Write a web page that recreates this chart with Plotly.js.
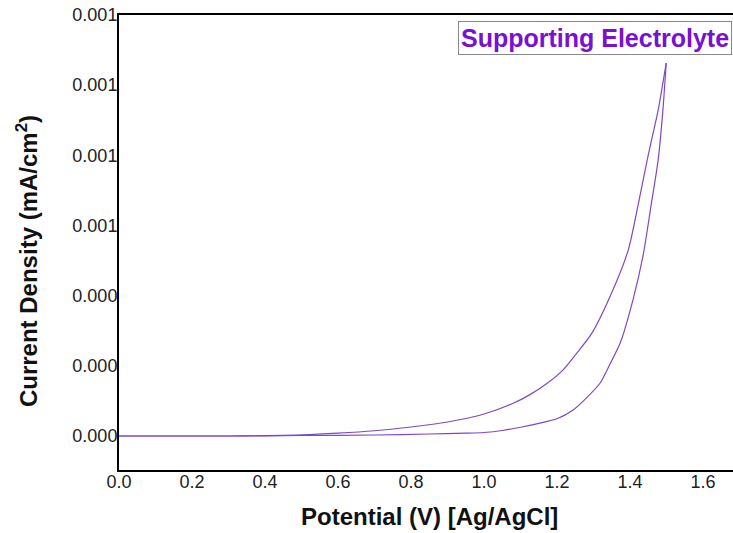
<!DOCTYPE html>
<html>
<head>
<meta charset="utf-8">
<script src="https://cdn.plot.ly/plotly-3.0.1.min.js"></script>
<style>html,body{margin:0;padding:0;background:#fff;}#chart{width:733px;height:533px;}</style>
</head>
<body>
<div id="chart"></div>
<script>
// Forward (anodic) sweep – lower branch
const potentialForward = [0.00, 0.30, 0.50, 0.70, 0.85, 0.95, 1.00, 1.05, 1.10, 1.15, 1.20, 1.244, 1.28, 1.318, 1.345, 1.373, 1.408, 1.436, 1.458, 1.477, 1.490, 1.499];
const currentForward   = [0.0, 0.0, 0.0000014, 0.0000029, 0.0000057, 0.0000080, 0.0000100, 0.0000157, 0.0000250, 0.0000360, 0.0000490, 0.0000741, 0.000108, 0.000151, 0.000205, 0.000265, 0.000388, 0.000516, 0.000660, 0.000787, 0.000929, 0.001063];
// Reverse sweep – upper branch
const potentialReverse = [1.499, 1.477, 1.462, 1.447, 1.422, 1.395, 1.353, 1.296, 1.25, 1.216, 1.17, 1.126, 1.08, 1.00, 0.90, 0.80, 0.70, 0.60, 0.50, 0.40, 0.30, 0.00];
const currentReverse   = [0.001063, 0.000929, 0.000858, 0.000787, 0.000658, 0.000530, 0.000416, 0.000294, 0.000231, 0.000188, 0.000148, 0.000118, 0.0000935, 0.0000627, 0.0000399, 0.0000256, 0.0000150, 0.0000080, 0.0000030, 0.0000010, 0.0, 0.0];

const yTickVals = [0, 0.0002, 0.0004, 0.0006, 0.0008, 0.0010, 0.0012];
const yTickText = ["0.000", "0.000", "0.000", "0.001", "0.001", "0.001", "0.001"];
const xTickVals = [0.0, 0.2, 0.4, 0.6, 0.8, 1.0, 1.2, 1.4, 1.6];
const xTickText = ["0.0", "0.2", "0.4", "0.6", "0.8", "1.0", "1.2", "1.4", "1.6"];
const seriesName = "Supporting Electrolyte";
const xTitle = "Potential (V) [Ag/AgCl]";
const yTitle = "Current Density (mA/cm<sup>2</sup>)";

const traceForward = {
  x: potentialForward,
  y: currentForward,
  type: "scatter",
  mode: "lines",
  name: seriesName,
  line: {color: "#7d48c8", width: 1.2, shape: "spline", smoothing: 0.7},
  showlegend: false
};
const traceReverse = {
  x: potentialReverse,
  y: currentReverse,
  type: "scatter",
  mode: "lines",
  name: seriesName,
  line: {color: "#7d48c8", width: 1.2, shape: "spline", smoothing: 0.7},
  showlegend: false
};

const font = "Arial, 'Liberation Sans', sans-serif";
const layout = {
  width: 733,
  height: 533,
  margin: {l: 119, r: 0, t: 15, b: 63},
  paper_bgcolor: "#ffffff",
  plot_bgcolor: "#ffffff",
  showlegend: false,
  xaxis: {
    range: [0, 1.682],
    tickvals: xTickVals,
    ticktext: xTickText,
    ticks: "",
    ticklabelstandoff: -6,
    showgrid: false,
    zeroline: false,
    showline: true,
    linecolor: "#000",
    linewidth: 2,
    mirror: true,
    tickfont: {family: font, size: 18, color: "#222"}
  },
  yaxis: {
    range: [-0.0000969, 0.0012],
    tickvals: yTickVals,
    ticktext: yTickText,
    ticks: "",
    ticklabelstandoff: -4,
    showgrid: false,
    zeroline: false,
    showline: true,
    linecolor: "#000",
    linewidth: 2,
    mirror: false,
    tickfont: {family: font, size: 18, color: "#222"}
  },
  annotations: [{
    xref: "paper", yref: "paper",
    x: 0.999, y: 0.986,
    xanchor: "right", yanchor: "top",
    text: "<b>" + seriesName + "</b>",
    showarrow: false,
    font: {family: font, size: 25, color: "#7711d4"},
    bgcolor: "#ffffff",
    bordercolor: "#888",
    borderwidth: 1,
    borderpad: 2
  }, {
    xref: "paper", yref: "paper",
    x: -0.150, y: 0.459,
    xanchor: "center", yanchor: "middle",
    textangle: -90,
    text: "<b>" + yTitle + "</b>",
    showarrow: false,
    font: {family: font, size: 24, color: "#111"}
  }, {
    xref: "paper", yref: "paper",
    x: 0.505, y: -0.103,
    xanchor: "center", yanchor: "middle",
    text: "<b>" + xTitle + "</b>",
    showarrow: false,
    font: {family: font, size: 24, color: "#111"}
  }]
};

Plotly.newPlot("chart", [traceForward, traceReverse], layout, {displayModeBar: false, staticPlot: true});
</script>
</body>
</html>
